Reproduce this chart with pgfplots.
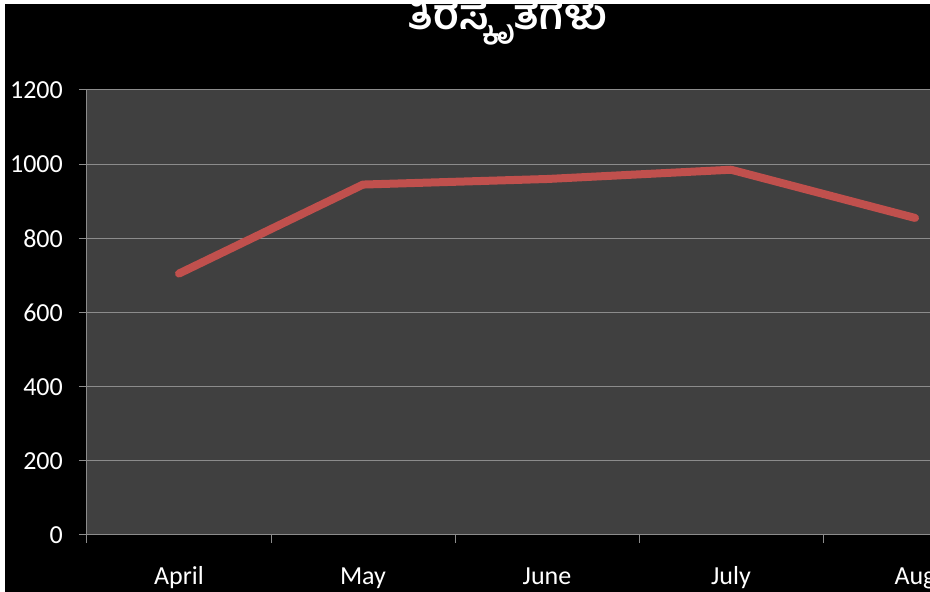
\documentclass[border=0pt]{standalone}
\usepackage{pgfplots}
\pgfplotsset{compat=1.18}
\usepackage{fontspec}
\setmainfont{Carlito}
\newfontfamily\kannada[Script=Kannada]{Hind Mysuru}
\definecolor{plotbg}{HTML}{404040}
\definecolor{gridc}{HTML}{8C8C8C}
\definecolor{linec}{HTML}{C0504D}
\begin{document}
\begin{tikzpicture}[x=1pt,y=1pt]
\fill[black] (0,0) rectangle (930,592);
\useasboundingbox (0,0) rectangle (930,592);
\begin{axis}[
  at={(87pt,57pt)}, anchor=south west,
  scale only axis, width=843pt, height=445pt,
  xmin=-0.5, xmax=4.0815, ymin=0, ymax=1200,
  axis background/.style={fill=plotbg},
  axis lines*=left,
  axis line style={gridc, line width=1pt, -},
  ytick={0,200,...,1200},
  ymajorgrids, grid style={gridc, line width=1pt},
  xtick={0,1,2,3,4},
  xticklabels={April,May,June,July,Aug},
  x tick style={draw=none},
  y tick style={gridc, line width=1pt},
  tick align=outside, major tick length=8pt,
  extra x ticks={-0.5,0.5,1.5,2.5,3.5},
  extra x tick labels={},
  extra x tick style={grid=none, major tick length=8pt, x tick style={draw=gridc, line width=1pt}},
  /pgf/number format/assume math mode=true,
  ticklabel style={font=\fontsize{26}{30}\selectfont, text=white},
  yticklabel style={anchor=east, inner sep=0pt, xshift=-16pt},
  xticklabel style={anchor=base, inner sep=0pt, yshift=-42pt},
  yticklabel={\pgfmathprintnumber[fixed,int detect,1000 sep={}]{\tick}},
  clip=true,
]
\addplot[linec, line width=8pt, line cap=round, line join=round] coordinates {
  (0,705) (1,945) (2,960) (3,985) (4,855)
};
\end{axis}
\node[anchor=base, text=white, inner sep=0pt] at (507,562) {\kannada\bfseries\fontsize{42}{46}\selectfont ತಿರಸ್ಕೃತಗಳು};
\fill[white] (0,0) rectangle (5,592);
\fill[white] (0,588) rectangle (930,592);
\end{tikzpicture}
\end{document}
